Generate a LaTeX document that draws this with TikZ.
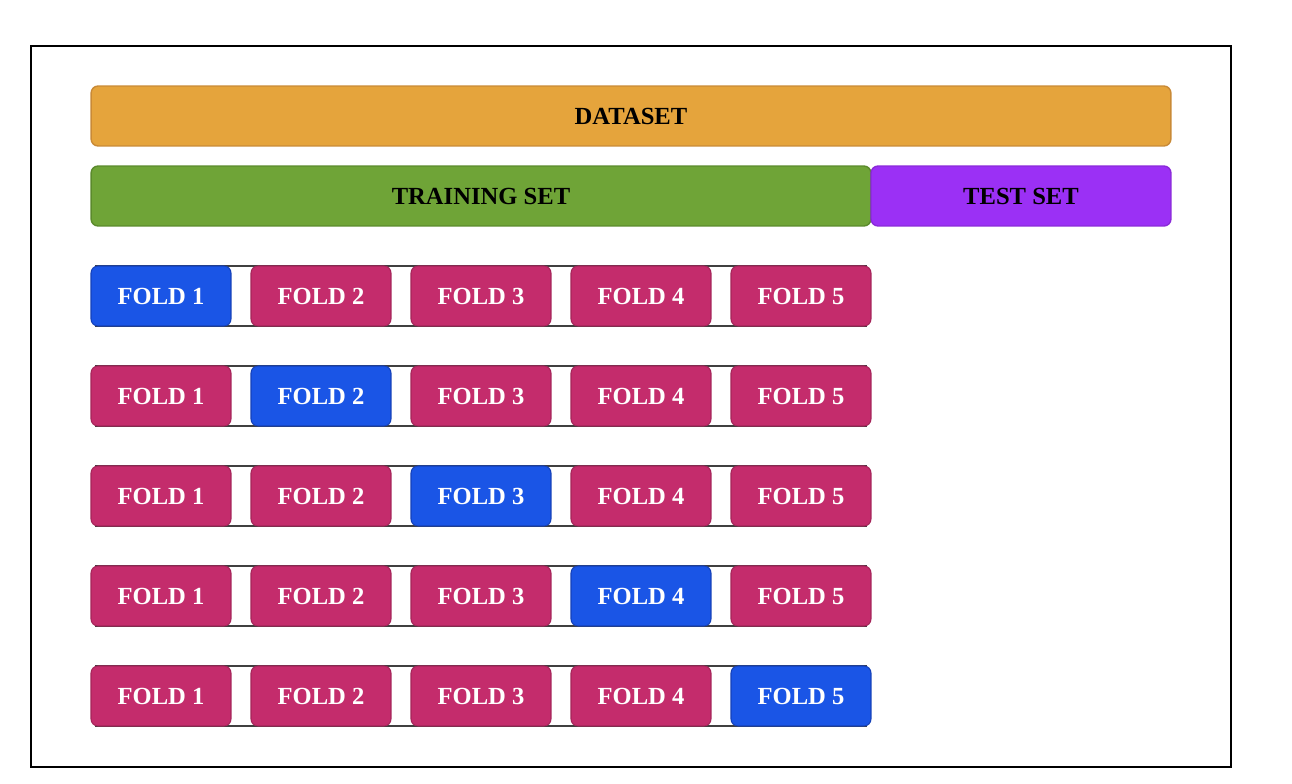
\documentclass[tikz,border=0pt]{standalone}
\usepackage{fontspec}
\setmainfont{Liberation Serif}
\usepackage{tikz}

\definecolor{dataorange}{HTML}{E5A43C}
\definecolor{dataedge}{HTML}{C98A36}
\definecolor{traingreen}{HTML}{6FA437}
\definecolor{trainedge}{HTML}{5B8A2C}
\definecolor{testpurple}{HTML}{9B30F5}
\definecolor{testedge}{HTML}{8A2AD8}
\definecolor{foldpink}{HTML}{C42C6C}
\definecolor{foldedge}{HTML}{A52459}
\definecolor{foldblue}{HTML}{1A55E6}
\definecolor{blueedge}{HTML}{1440B8}

\begin{document}
\begin{tikzpicture}[x=0.02cm, y=-0.02cm, every node/.style = {shape=rectangle, rounded corners=4pt, draw, align=center, inner sep=0pt, font=\bfseries\fontsize{14}{16}\selectfont},
    setbar/.style = {minimum height=1.2cm, line width=0.8pt},
    rowbar/.style = {sharp corners, minimum width=15.4cm, minimum height=1.2cm, fill=white, draw=black!75, line width=1pt},
    fold/.style = {minimum width=2.8cm, minimum height=1.2cm, fill=foldpink, draw=foldedge, text=white, line width=0.6pt},
    valfold/.style = {fold, fill=foldblue, draw=blueedge}]
    \useasboundingbox (0,0) rectangle (1292,784);
    \draw[line width=1.4pt] (31,46) rectangle (1231,767);
    \node[setbar, minimum width=21.6cm, fill=dataorange, draw=dataedge] (dataset) at (631,116) {DATASET};
    \node[setbar, minimum width=15.6cm, fill=traingreen, draw=trainedge] (trainset) at (481,196) {TRAINING SET};
    \node[setbar, minimum width=6cm, fill=testpurple, draw=testedge] (testset) at (1021,196) {TEST SET};
    \foreach \r in {1,...,5}{
        \node[rowbar] (row\r) at (481,196+100*\r) {};
        \foreach \f in {1,...,5}{
            \ifnum\f=\r \def\fs{valfold}\else \def\fs{fold}\fi
            \node[\fs] (fold\r\f) at (1+160*\f,196+100*\r) {FOLD \f};
        }
    }
\end{tikzpicture}
\end{document}
